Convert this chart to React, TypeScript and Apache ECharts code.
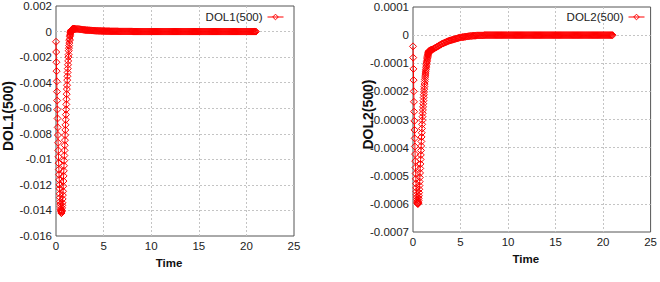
import React, { useEffect, useRef } from "react";
import * as echarts from "echarts";

const time = [
  0, 0.02, 0.04, 0.06, 0.08, 0.1, 0.12, 0.14, 0.16, 0.18,
  0.2, 0.22, 0.24, 0.26, 0.28, 0.3, 0.32, 0.34, 0.36, 0.38,
  0.4, 0.42, 0.44, 0.46, 0.48, 0.5, 0.52, 0.54, 0.56, 0.58,
  0.6, 0.62, 0.64, 0.66, 0.68, 0.7, 0.72, 0.74, 0.76, 0.78,
  0.8, 0.82, 0.84, 0.86, 0.88, 0.9, 0.92, 0.94, 0.96, 0.98,
  1, 1.02, 1.04, 1.06, 1.08, 1.1, 1.12, 1.14, 1.16, 1.18,
  1.2, 1.22, 1.24, 1.26, 1.28, 1.3, 1.32, 1.34, 1.36, 1.38,
  1.4, 1.42, 1.44, 1.46, 1.48, 1.5, 1.52, 1.54, 1.56, 1.58,
  1.6, 1.62, 1.64, 1.66, 1.68, 1.7, 1.72, 1.74, 1.76, 1.78,
  1.8, 1.82, 1.84, 1.86, 1.88, 1.9, 1.92, 1.94, 1.96, 1.98,
  2,
  2.1, 2.2, 2.3, 2.4, 2.5, 2.6, 2.7, 2.8, 2.9, 3,
  3.1, 3.2, 3.3, 3.4, 3.5, 3.6, 3.7, 3.8, 3.9, 4,
  4.1, 4.2, 4.3, 4.4, 4.5, 4.6, 4.7, 4.8, 4.9, 5,
  5.1, 5.2, 5.3, 5.4, 5.5, 5.6, 5.7, 5.8, 5.9, 6,
  6.1, 6.2, 6.3, 6.4, 6.5, 6.6, 6.7, 6.8, 6.9, 7,
  7.1, 7.2, 7.3, 7.4, 7.5, 7.6, 7.7, 7.8, 7.9, 8,
  8.1, 8.2, 8.3, 8.4, 8.5, 8.6, 8.7, 8.8, 8.9, 9,
  9.1, 9.2, 9.3, 9.4, 9.5, 9.6, 9.7, 9.8, 9.9, 10,
  10.1, 10.2, 10.3, 10.4, 10.5, 10.6, 10.7, 10.8, 10.9, 11,
  11.1, 11.2, 11.3, 11.4, 11.5, 11.6, 11.7, 11.8, 11.9, 12,
  12.1, 12.2, 12.3, 12.4, 12.5, 12.6, 12.7, 12.8, 12.9, 13,
  13.1, 13.2, 13.3, 13.4, 13.5, 13.6, 13.7, 13.8, 13.9, 14,
  14.1, 14.2, 14.3, 14.4, 14.5, 14.6, 14.7, 14.8, 14.9, 15,
  15.1, 15.2, 15.3, 15.4, 15.5, 15.6, 15.7, 15.8, 15.9, 16,
  16.1, 16.2, 16.3, 16.4, 16.5, 16.6, 16.7, 16.8, 16.9, 17,
  17.1, 17.2, 17.3, 17.4, 17.5, 17.6, 17.7, 17.8, 17.9, 18,
  18.1, 18.2, 18.3, 18.4, 18.5, 18.6, 18.7, 18.8, 18.9, 19,
  19.1, 19.2, 19.3, 19.4, 19.5, 19.6, 19.7, 19.8, 19.9, 20,
  20.1, 20.2, 20.3, 20.4, 20.5, 20.6, 20.7, 20.8, 20.9, 21,
];

const dol1 = [
  -0.0008, -0.0016, -0.0024, -0.0031, -0.0039, -0.0047, -0.0054, -0.0061, -0.0068, -0.0075,
  -0.0081, -0.0087, -0.0093, -0.0098, -0.0103, -0.0108, -0.0112, -0.0116, -0.012, -0.0123,
  -0.0127, -0.013, -0.0133, -0.0135, -0.0137, -0.0139, -0.014, -0.0141, -0.0142, -0.0142,
  -0.0141, -0.014, -0.0138, -0.0136, -0.0134, -0.0131, -0.0128, -0.0125, -0.0121, -0.0117,
  -0.0113, -0.0109, -0.0105, -0.0101, -0.0097, -0.0093, -0.0089, -0.0085, -0.0081, -0.0077,
  -0.0073, -0.0069, -0.0065, -0.0061, -0.0057, -0.0053, -0.0049, -0.0045, -0.0042, -0.0038,
  -0.0035, -0.0032, -0.0029, -0.0026, -0.0023, -0.002, -0.0018, -0.0015, -0.0013, -0.0011,
  -0.0009, -0.0007, -0.0006, -0.0004, -0.0003, -0.0002, -0.0001, -0.00005, 0, 0.00004,
  0.00007, 0.0001, 0.00012, 0.00014, 0.00015, 0.00016, 0.00017, 0.00018, 0.00019, 0.00019,
  0.0002, 0.0002, 0.0002, 0.0002, 0.0002, 0.0002, 0.0002, 0.0002, 0.0002, 0.0002,
  0.0002,
  0.0002, 0.0002, 0.0002, 0.00019, 0.00018, 0.00017, 0.00016, 0.00015, 0.00014, 0.00013,
  0.00012, 0.00011, 0.00011, 0.0001, 0.0001, 0.00009, 0.00009, 0.00008, 0.00008, 0.00007,
  0.00007, 0.00006, 0.00006, 0.00006, 0.00005, 0.00005, 0.00005, 0.00004, 0.00004, 0.00004,
  0.00004, 0.00003, 0.00003, 0.00003, 0.00003, 0.00003, 0.00002, 0.00002, 0.00002, 0.00002,
  0.00002, 0.00002, 0.00002, 0.00002, 0.00002, 0.00001, 0.00001, 0.00001, 0.00001, 0.00001,
  0.00001, 0.00001, 0.00001, 0.00001, 0.00001, 0.00001, 0.00001, 0.00001, 0.00001, 0.00001,
  0, 0, 0, 0, 0, 0, 0, 0, 0, 0,
  0, 0, 0, 0, 0, 0, 0, 0, 0, 0,
  0, 0, 0, 0, 0, 0, 0, 0, 0, 0,
  0, 0, 0, 0, 0, 0, 0, 0, 0, 0,
  0, 0, 0, 0, 0, 0, 0, 0, 0, 0,
  0, 0, 0, 0, 0, 0, 0, 0, 0, 0,
  0, 0, 0, 0, 0, 0, 0, 0, 0, 0,
  0, 0, 0, 0, 0, 0, 0, 0, 0, 0,
  0, 0, 0, 0, 0, 0, 0, 0, 0, 0,
  0, 0, 0, 0, 0, 0, 0, 0, 0, 0,
  0, 0, 0, 0, 0, 0, 0, 0, 0, 0,
  0, 0, 0, 0, 0, 0, 0, 0, 0, 0,
  0, 0, 0, 0, 0, 0, 0, 0, 0, 0,
];

const dol2 = [
  -0.00004, -0.00008, -0.00012, -0.00016, -0.0002, -0.000237, -0.000272, -0.000305, -0.000337, -0.000367,
  -0.000396, -0.000423, -0.000448, -0.000471, -0.000492, -0.000511, -0.000528, -0.000543, -0.000556, -0.000567,
  -0.000576, -0.000584, -0.00059, -0.000595, -0.000598, -0.0006, -0.0006, -0.000598, -0.000594, -0.000588,
  -0.00058, -0.000571, -0.00056, -0.000548, -0.000535, -0.000521, -0.000506, -0.00049, -0.000474, -0.000458,
  -0.000442, -0.000426, -0.00041, -0.000394, -0.000378, -0.000362, -0.000347, -0.000332, -0.000317, -0.000303,
  -0.00029, -0.000278, -0.000266, -0.000255, -0.000244, -0.000233, -0.000222, -0.000212, -0.000202, -0.000192,
  -0.000183, -0.000174, -0.000165, -0.000157, -0.000149, -0.000142, -0.000135, -0.000128, -0.000122, -0.000116,
  -0.00011, -0.000104, -0.000099, -0.000094, -0.000089, -0.000084, -0.00008, -0.000076, -0.000072, -0.000069,
  -0.000066, -0.000063, -0.000061, -0.000059, -0.000058, -0.000057, -0.000056, -0.000056, -0.000055, -0.000055,
  -0.000055, -0.000055, -0.000054, -0.000054, -0.000054, -0.000054, -0.000053, -0.000053, -0.000053, -0.000052,
  -0.000052,
  -0.00005, -0.000048, -0.000046, -0.000044, -0.000042, -0.00004, -0.000038, -0.000036, -0.000034, -0.000032,
  -0.00003, -0.000029, -0.000027, -0.000026, -0.000024, -0.000023, -0.000021, -0.00002, -0.000019, -0.000018,
  -0.000017, -0.000016, -0.000015, -0.000014, -0.000013, -0.000012, -0.000011, -0.00001, -0.000009, -0.000008,
  -0.000008, -0.000007, -0.000007, -0.000006, -0.000006, -0.000005, -0.000005, -0.000004, -0.000004, -0.000003,
  -0.000003, -0.000003, -0.000002, -0.000002, -0.000002, -0.000002, -0.000001, -0.000001, -0.000001, -0.000001,
  -0.000001, -0.000001, -0.000001, -0.000001, 0, 0, 0, 0, 0, 0,
  0, 0, 0, 0, 0, 0, 0, 0, 0, 0,
  0, 0, 0, 0, 0, 0, 0, 0, 0, 0,
  0, 0, 0, 0, 0, 0, 0, 0, 0, 0,
  0, 0, 0, 0, 0, 0, 0, 0, 0, 0,
  0, 0, 0, 0, 0, 0, 0, 0, 0, 0,
  0, 0, 0, 0, 0, 0, 0, 0, 0, 0,
  0, 0, 0, 0, 0, 0, 0, 0, 0, 0,
  0, 0, 0, 0, 0, 0, 0, 0, 0, 0,
  0, 0, 0, 0, 0, 0, 0, 0, 0, 0,
  0, 0, 0, 0, 0, 0, 0, 0, 0, 0,
  0, 0, 0, 0, 0, 0, 0, 0, 0, 0,
  0, 0, 0, 0, 0, 0, 0, 0, 0, 0,
  0, 0, 0, 0, 0, 0, 0, 0, 0, 0,
];

const seriesNames = ["DOL1(500)", "DOL2(500)"];
const yTitles = ["DOL1(500)", "DOL2(500)"];
const xTitle = "Time";

const SANS = "'Liberation Sans', Arial, sans-serif";
const RED = "#ff0000";

export default function App() {
  const ref = useRef<HTMLDivElement>(null);
  useEffect(() => {
    const chart = echarts.init(ref.current!, null, { renderer: "svg" });
    const fmt = (v: number) => String(parseFloat(v.toFixed(6)));
    const labelStyle = { fontFamily: SANS, fontSize: 11.5, color: "#222", margin: 4 };
    const split = {
      show: true,
      showMinLine: false,
      showMaxLine: false,
      lineStyle: { color: "#c4c4c4", type: [2, 2], width: 1 },
    };
    const grids = [
      { left: 56, top: 6, width: 238, height: 230 },
      { left: 413, top: 7, width: 240, height: 225 },
    ];
    const yRanges = [
      { min: -0.016, max: 0.002, interval: 0.002 },
      { min: -0.0007, max: 0.0001, interval: 0.0001 },
    ];
    const datasets = [dol1, dol2];
    const legendRight = [376, 15];
    const option: any = {
      animation: false,
      backgroundColor: "#fff",
      grid: grids.map((g) => ({
        ...g,
        show: true,
        borderColor: "#555",
        borderWidth: 1,
        backgroundColor: "transparent",
      })),
      legend: [0, 1].map((i) => ({
        data: [seriesNames[i]],
        right: legendRight[i],
        top: 11,
        padding: 0,
        align: "right",
        itemWidth: 16,
        itemHeight: 7,
        itemStyle: { color: "rgba(255,255,255,0)", borderColor: RED, borderWidth: 1 },
        lineStyle: { color: RED, width: 1 },
        textStyle: { fontFamily: SANS, fontSize: 11.5, color: "#222" },
      })),
      xAxis: [0, 1].map((i) => ({
        type: "value",
        gridIndex: i,
        min: 0,
        max: 25,
        interval: 5,
        name: xTitle,
        nameLocation: "middle",
        nameGap: 21,
        nameMoveOverlap: false,
        nameTextStyle: {
          fontFamily: SANS,
          fontWeight: "bold",
          fontSize: 11.5,
          color: "#111",
          padding: [0, 12, 0, 0],
        },
        axisLine: { show: false },
        axisTick: { show: false },
        axisLabel: { ...labelStyle },
        splitLine: split,
      })),
      yAxis: [0, 1].map((i) => ({
        type: "value",
        gridIndex: i,
        ...yRanges[i],
        name: yTitles[i],
        nameLocation: "middle",
        nameGap: i === 0 ? 41 : 38,
        nameMoveOverlap: false,
        nameTextStyle: {
          fontFamily: SANS,
          fontWeight: "bold",
          fontSize: 14,
          color: "#111",
          padding: [0, 0, 0, 10],
        },
        axisLine: { show: false },
        axisTick: { show: false },
        axisLabel: { ...labelStyle, formatter: fmt },
        splitLine: split,
      })),
      series: [0, 1].map((i) => ({
        name: seriesNames[i],
        type: "line",
        xAxisIndex: i,
        yAxisIndex: i,
        data: time.map((t, k) => [t, datasets[i][k]]),
        symbol: "diamond",
        symbolSize: 7,
        showSymbol: true,
        showAllSymbol: true,
        lineStyle: { color: RED, width: 1 },
        itemStyle: { color: "rgba(255,255,255,0)", borderColor: RED, borderWidth: 1 },
        emphasis: { disabled: true },
      })),
    };
    chart.setOption(option);
    return () => chart.dispose();
  }, []);
  return (
    <div
      ref={ref}
      style={{ position: "absolute", left: 0, top: 0, width: 660, height: 282 }}
    />
  );
}
